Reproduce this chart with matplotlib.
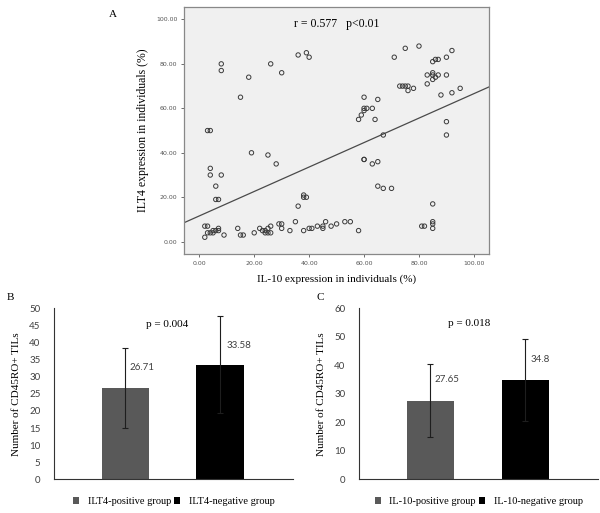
import matplotlib
matplotlib.use('Agg')
import matplotlib.pyplot as plt
import numpy as np

# panel A: IL-10 vs ILT4 expression (%)
il10 = [36, 39, 40, 26, 30, 18, 15, 8, 8, 3, 4, 4, 4, 8, 6, 6, 7, 19, 25, 28,
        38, 38, 39, 36,
        2, 3, 2, 3, 4, 5, 5, 6, 7, 7, 9, 14, 15, 16, 20, 22, 23, 24, 24, 25, 26,
        25, 26, 29, 30, 30, 33, 35, 38, 40, 41, 43, 45, 45, 46, 48, 50, 53, 55, 58,
        58, 59, 60, 60, 61, 60, 63, 64, 65, 67, 60, 60, 63, 65, 65, 67, 70,
        71, 75, 80, 73, 74, 75, 76, 76, 78, 83, 83, 85, 86, 87, 85, 85, 86, 85,
        87, 90, 92, 90, 88, 92, 95, 90, 90, 85, 85, 85, 85, 81, 82]
ilt4 = [84, 85, 83, 80, 76, 74, 65, 80, 77, 50, 50, 33, 30, 30, 25, 19, 19, 40, 39, 35,
        21, 20, 20, 16,
        7, 7, 2, 4, 4, 4, 5, 5, 6, 5, 3, 6, 3, 3, 4, 6, 5, 5, 4, 4, 4,
        6, 7, 8, 8, 6, 5, 9, 5, 6, 6, 7, 7, 6, 9, 7, 8, 9, 9, 5,
        55, 57, 65, 60, 60, 59, 60, 55, 64, 48, 37, 37, 35, 36, 25, 24, 24,
        83, 87, 88, 70, 70, 70, 70, 68, 69, 75, 71, 81, 82, 82, 76, 75, 74, 73,
        75, 83, 86, 75, 66, 67, 69, 54, 48, 17, 9, 8, 6, 7, 7]
fit_intercept = 11.6
fit_slope = 0.55
ticks_a = [0, 20, 40, 60, 80, 100]

# panel B / C: CD45RO+ TILs
groups_b = ['ILT4-positive group', 'ILT4-negative group']
means_b = [26.71, 33.58]
err_b = [11.8, 14.2]
labels_b = ['26.71', '33.58']

groups_c = ['IL-10-positive group', 'IL-10-negative group']
means_c = [27.65, 34.8]
err_c = [12.8, 14.4]
labels_c = ['27.65', '34.8']

serif = 'Liberation Serif'
sans = 'Lato'

fig = plt.figure(figsize=(6, 5.13), dpi=100)

# ---- panel A ----
ax = fig.add_axes([0.307, 0.505, 0.508, 0.481])
ax.set_facecolor('#f0f0f0')
ax.scatter(il10, ilt4, s=10, facecolors='none', edgecolors='#3a3a3a', linewidths=0.7, zorder=3)
xs = np.array([-5.5, 105.5])
ax.plot(xs, fit_intercept + fit_slope * xs, color='#4a4a4a', lw=0.9, zorder=2)
ax.set_xlim(-5.5, 105.5)
ax.set_ylim(-5.5, 105.5)
ax.set_xticks(ticks_a)
ax.set_yticks(ticks_a)
ax.set_xticklabels(['%.2f' % t for t in ticks_a])
ax.set_yticklabels(['%.2f' % t for t in ticks_a])
ax.tick_params(labelsize=4.5, length=2, width=0.6, colors='#555555', pad=3)
for sp in ax.spines.values():
    sp.set_color('#888888')
    sp.set_linewidth(0.9)
ax.set_xlabel('IL-10 expression in individuals (%)', family=serif, fontsize=8, labelpad=6)
ax.set_ylabel('ILT4 expression in individuals (%)', family=serif, fontsize=8.5, labelpad=5)
ax.text(0.5, 0.93, 'r = 0.577   p<0.01', transform=ax.transAxes, ha='center', va='center',
        family=serif, fontsize=8.5)
fig.text(113 / 600, 1 - 15 / 513, 'A', family=serif, fontsize=8, ha='center', va='center')


def bar_panel(rect, groups, means, errs, labels, ymax, step, ptext, px, py, lab_pos, letter, lx):
    ax = fig.add_axes(rect)
    x = np.arange(len(groups))
    bars = ax.bar(x, means, width=0.5, color=['#595959', '#000000'], zorder=2)
    ax.errorbar(x, means, yerr=errs, fmt='none', ecolor='#1e1e1e', elinewidth=0.8,
                capsize=2.5, capthick=0.8, zorder=3)
    for (tx, ty), t in zip(lab_pos, labels):
        ax.text(tx, ty, t, family=sans, fontsize=7, color='#404040', ha='left', va='center')
    ax.text(px, py, ptext, family=serif, fontsize=8, ha='center', va='center')
    ax.set_xlim(-0.75, 1.77)
    ax.set_ylim(0, ymax)
    ax.set_yticks(np.arange(0, ymax + 1, step))
    ax.set_xticks([])
    ax.tick_params(axis='y', length=0, labelsize=7, labelcolor='#404040', pad=10)
    for lbl in ax.get_yticklabels():
        lbl.set_family(sans)
    for s in ['top', 'right']:
        ax.spines[s].set_visible(False)
    for s in ['left', 'bottom']:
        ax.spines[s].set_color('#333333')
        ax.spines[s].set_linewidth(0.8)
    ax.set_ylabel('Number of CD45RO+ TILs', family=serif, fontsize=8, labelpad=6)
    ax.legend(bars, groups, loc='upper center', bbox_to_anchor=(0.5, -0.05), ncol=2,
              frameon=False, handlelength=0.6, handleheight=0.6, handletextpad=0.8,
              columnspacing=0.3, prop={'family': serif, 'size': 7.5})
    fig.text(lx, 1 - 298 / 513, letter, family=serif, fontsize=8, ha='center', va='center')
    return ax


bar_panel([0.0905, 0.0657, 0.398, 0.333], groups_b, means_b, err_b, labels_b, 50, 5,
          'p = 0.004', 0.44, 45.3, [(0.04, 32.7), (1.07, 39.3)], 'B', 10 / 600)
bar_panel([0.599, 0.0657, 0.398, 0.333], groups_c, means_c, err_c, labels_c, 60, 10,
          'p = 0.018', 0.41, 54.7, [(0.045, 35.2), (1.06, 42.2)], 'C', 320 / 600)

fig.savefig('out.png', dpi=100)
